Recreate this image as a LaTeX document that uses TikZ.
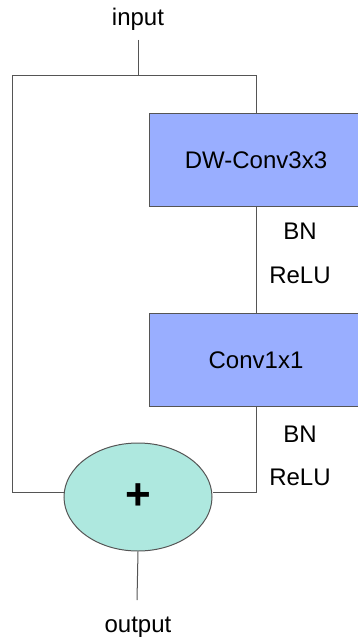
\documentclass[tikz,border=0pt]{standalone}
\usepackage{fontspec}
\setmainfont{Liberation Sans}
\usetikzlibrary{shapes.geometric}
\definecolor{convFill}{HTML}{99AEFF}
\definecolor{addFill}{HTML}{AEE8DF}
\definecolor{wireC}{HTML}{555555}
\tikzset{
  lbl/.style={font=\fontsize{24}{28}\selectfont, inner sep=0pt},
  convbox/.style={draw=wireC, fill=convFill, line width=1pt,
                  minimum width=214pt, minimum height=93pt,
                  font=\fontsize{24}{28}\selectfont, inner sep=0pt},
  addnode/.style={ellipse, draw=wireC, fill=addFill, line width=1pt,
                  minimum width=148pt, minimum height=108pt, inner sep=0pt,
                  font=\fontsize{44}{44}\selectfont\bfseries},
  wire/.style={draw=wireC, line width=1pt},
}

\begin{document}
\begin{tikzpicture}[x=1pt, y=-1pt]
  \useasboundingbox (0,0) rectangle (357,639);
  % blocks
  \node[convbox] (dw) at (256,160) {DW-Conv3x3};
  \node[convbox] (pw) at (256,360) {Conv1x1};
  \node[addnode] (add) at (138,497) {+};
  % labels
  \node[lbl, anchor=base] (in)  at (138,26)  {input};
  \node[lbl, anchor=base] (out) at (138,632) {output};
  \node[lbl, anchor=base] (bn1) at (300,239) {BN};
  \node[lbl, anchor=base] (re1) at (300,283) {ReLU};
  \node[lbl, anchor=base] (bn2) at (300,442) {BN};
  \node[lbl, anchor=base] (re2) at (300,485) {ReLU};
  % wire corners
  \coordinate (inend)  at (138,40);
  \coordinate (split)  at (138,76);
  \coordinate (lt)     at (12,76);
  \coordinate (lb)     at (12,492);
  \coordinate (outend) at (137,600);
  % connectors
  \draw[wire] (inend) -- (split);
  \draw[wire] (lt) -- (dw.north |- lt) -- (dw.north);
  \draw[wire] (lt) -- (lb) -- (lb -| add.west);
  \draw[wire] (dw.south) -- (pw.north);
  \draw[wire] (pw.south) -- (pw.south |- lb) -- (lb -| add.east);
  \draw[wire] (add.south) -- (outend);
\end{tikzpicture}
\end{document}
